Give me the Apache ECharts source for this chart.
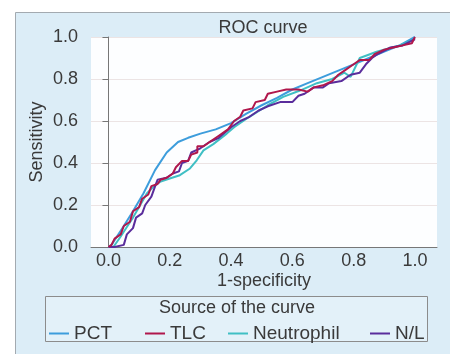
<!DOCTYPE html>
<html>
<head>
<meta charset="utf-8">
<script src="https://cdn.jsdelivr.net/npm/echarts@6/dist/echarts.min.js"></script>
<style>
html,body{margin:0;padding:0;background:#fff;}
#c{width:450px;height:354px;}
</style>
</head>
<body>
<div id="c"></div>
<script>
var chartTitle = 'ROC curve';
var legendTitle = 'Source of the curve';
var xName = '1-specificity';
var yName = 'Sensitivity';
var tickValues = [0, 0.2, 0.4, 0.6, 0.8, 1.0];
var seriesNames = ['PCT', 'TLC', 'Neutrophil', 'N/L'];

var pct = [[0,0],[0.01,0.01],[0.05,0.1],[0.08,0.17],[0.114,0.255],[0.152,0.366],[0.19,0.45],[0.227,0.5],[0.26,0.52],[0.3,0.54],[0.35,0.56],[0.4,0.59],[0.45,0.635],[0.5,0.675],[0.55,0.71],[0.6,0.75],[0.65,0.78],[0.7,0.81],[0.75,0.84],[0.8,0.87],[0.85,0.9],[0.9,0.93],[0.95,0.96],[1,1]];

var tlc = [[0,0],[0.01,0.01],[0.02,0.04],[0.04,0.06],[0.05,0.1],[0.07,0.12],[0.08,0.17],[0.1,0.19],[0.11,0.23],[0.13,0.25],[0.14,0.29],[0.16,0.3],[0.17,0.32],[0.19,0.33],[0.21,0.35],[0.22,0.38],[0.24,0.41],[0.26,0.41],[0.27,0.44],[0.29,0.45],[0.29,0.48],[0.31,0.48],[0.33,0.5],[0.36,0.53],[0.39,0.56],[0.41,0.6],[0.43,0.62],[0.44,0.65],[0.47,0.66],[0.48,0.69],[0.51,0.7],[0.52,0.73],[0.55,0.74],[0.58,0.75],[0.62,0.75],[0.65,0.74],[0.67,0.76],[0.7,0.77],[0.73,0.79],[0.75,0.82],[0.77,0.84],[0.8,0.87],[0.82,0.89],[0.85,0.89],[0.87,0.92],[0.9,0.94],[0.93,0.95],[0.96,0.96],[0.99,0.97],[1,1]];

var neutrophil = [[0,0],[0.016,0],[0.04,0.05],[0.06,0.095],[0.08,0.14],[0.1,0.19],[0.125,0.255],[0.146,0.286],[0.168,0.31],[0.2,0.326],[0.233,0.342],[0.266,0.374],[0.288,0.413],[0.31,0.46],[0.342,0.49],[0.386,0.54],[0.41,0.57],[0.46,0.62],[0.52,0.675],[0.57,0.715],[0.625,0.745],[0.68,0.78],[0.73,0.8],[0.77,0.83],[0.79,0.81],[0.82,0.9],[0.875,0.93],[0.95,0.96],[1,0.99]];

var nl = [[0,0],[0.02,0],[0.05,0.01],[0.06,0.06],[0.08,0.09],[0.09,0.14],[0.11,0.16],[0.12,0.2],[0.14,0.24],[0.15,0.28],[0.16,0.32],[0.19,0.33],[0.21,0.35],[0.23,0.36],[0.24,0.4],[0.26,0.41],[0.27,0.45],[0.3,0.47],[0.33,0.5],[0.36,0.52],[0.4,0.57],[0.43,0.6],[0.46,0.62],[0.49,0.65],[0.52,0.67],[0.56,0.69],[0.6,0.69],[0.62,0.72],[0.64,0.73],[0.67,0.76],[0.7,0.76],[0.72,0.78],[0.76,0.79],[0.79,0.82],[0.82,0.83],[0.84,0.87],[0.86,0.9],[0.88,0.92],[0.92,0.95],[0.96,0.96],[1,0.99]];

var seriesData = [pct, tlc, neutrophil, nl];
var colors = ['#3d9ddc', '#b0174c', '#3fbfc4', '#5a2d9c'];
var legendLefts = [49, 145, 228, 370];

var font = 'Liberation Sans, Arial, sans-serif';
var textColor = '#3a3a3a';

var chart = echarts.init(document.getElementById('c'), null, {renderer: 'canvas'});
chart.setOption({
  animation: false,
  color: colors,
  graphic: [
    {type: 'rect', z: -10, shape: {x: 15.5, y: 12.5, width: 440, height: 350},
     style: {fill: '#dcedf7', stroke: '#a3aab0', lineWidth: 1}},
    {type: 'rect', z: -5, shape: {x: 45.5, y: 296.5, width: 382, height: 45},
     style: {fill: '#e3f1f9', stroke: '#8c8c8c', lineWidth: 1}}
  ],
  title: [
    {text: chartTitle, left: 263, top: 19, textAlign: 'center', padding: 0,
     textStyle: {fontFamily: font, fontSize: 18, fontWeight: 'normal', color: textColor}},
    {text: legendTitle, left: 237, top: 299, textAlign: 'center', padding: 0,
     textStyle: {fontFamily: font, fontSize: 18, fontWeight: 'normal', color: textColor}}
  ],
  legend: seriesNames.map(function (n, i) {
    return {
      left: legendLefts[i], top: 324, padding: 0,
      itemWidth: 20, itemHeight: 2, icon: 'rect',
      textStyle: {fontFamily: font, fontSize: 19, color: textColor},
      data: [n]
    };
  }),
  grid: {left: 91, right: 13, top: 37, bottom: 107, containLabel: false, outerBoundsMode: 'none',
    show: true, backgroundColor: '#fdfeff', borderWidth: 0},
  xAxis: {
    type: 'value', min: -0.057, max: 1.072,
    name: xName, nameLocation: 'middle', nameGap: 25, nameMoveOverlap: false,
    nameTextStyle: {fontFamily: font, fontSize: 18, color: textColor},
    axisLine: {lineStyle: {color: '#777', width: 1}},
    axisTick: {show: false},
    splitLine: {show: false},
    axisLabel: {customValues: tickValues, margin: 5, fontFamily: font, fontSize: 18, color: textColor,
      formatter: function (v) { return v.toFixed(1); }}
  },
  yAxis: {
    type: 'value', min: 0, max: 1, interval: 0.2,
    name: yName, nameLocation: 'middle', nameGap: 45, nameMoveOverlap: false,
    nameTextStyle: {fontFamily: font, fontSize: 18, color: textColor},
    axisLine: {show: true, lineStyle: {color: '#777', width: 1}},
    axisTick: {show: true, length: 6, lineStyle: {color: '#777'}},
    splitLine: {show: true, lineStyle: {color: '#ece4e4', width: 1}},
    axisLabel: {margin: 13, fontFamily: font, fontSize: 18, color: textColor,
      formatter: function (v) { return v.toFixed(1); }}
  },
  series: seriesNames.map(function (n, i) {
    return {name: n, type: 'line', data: seriesData[i], symbol: 'none',
      lineStyle: {width: 2, color: colors[i]}, z: 2 + (i === 1 ? 1 : 0)};
  })
});
</script>
</body>
</html>
